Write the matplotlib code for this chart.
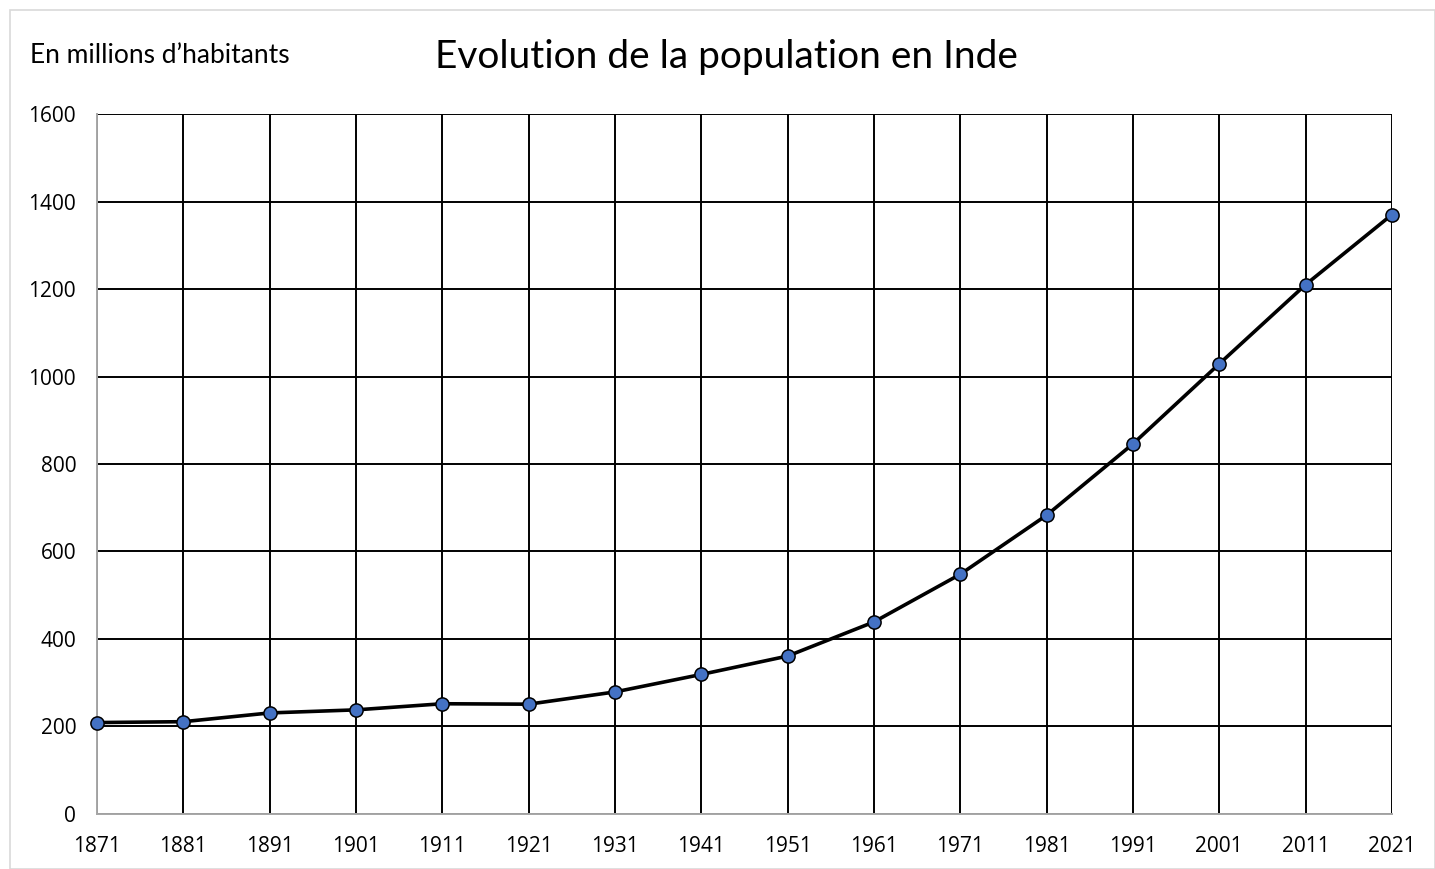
import matplotlib.pyplot as plt
from matplotlib.patches import Rectangle

# population de l'Inde, en millions d'habitants
annees = [1871, 1881, 1891, 1901, 1911, 1921, 1931, 1941, 1951,
          1961, 1971, 1981, 1991, 2001, 2011, 2021]
population = [209, 211, 231, 238, 252, 251, 279, 319, 361,
              439, 548, 683, 846, 1029, 1210, 1370]
graduations_y = [0, 200, 400, 600, 800, 1000, 1200, 1400, 1600]

fig = plt.figure(figsize=(14.35, 8.69), dpi=100)
ax = fig.add_axes([0.0676, 0.0633, 0.9024, 0.8055])

# cadre gris clair autour du graphique
fig.patches.append(Rectangle((0.007, 0.0), 0.993, 0.989, transform=fig.transFigure,
                             fill=False, edgecolor='#d9d9d9', linewidth=1.2))

ax.plot(annees, population, '-', color='black', linewidth=2.6, zorder=3,
        marker='o', markersize=9.5, markerfacecolor='#4472c4',
        markeredgecolor='black', markeredgewidth=1.1, clip_on=False)

ax.set_xlim(annees[0], annees[-1])
ax.set_ylim(0, 1600)
ax.set_xticks(annees)
ax.set_yticks(graduations_y)
ax.grid(True, color='black', linewidth=1.4)
ax.set_axisbelow(True)

for s in ['top', 'right']:
    ax.spines[s].set_visible(False)
for s in ['left', 'bottom']:
    ax.spines[s].set_color('#a6a6a6')
    ax.spines[s].set_linewidth(1.4)
    ax.spines[s].set_zorder(2.5)

ax.tick_params(length=0, labelsize=15)
ax.tick_params(axis='x', pad=16)
ax.tick_params(axis='y', pad=15)
plt.setp(ax.get_xticklabels(), family='Open Sans')
plt.setp(ax.get_yticklabels(), family='Open Sans')

fig.text(0.5065, 0.934, 'Evolution de la population en Inde', ha='center', va='center',
         fontsize=28, family='Lato')
fig.text(0.021, 0.936, 'En millions d\u2019habitants', ha='left', va='center',
         fontsize=19, family='Lato')

plt.savefig('out.png', dpi=100)
